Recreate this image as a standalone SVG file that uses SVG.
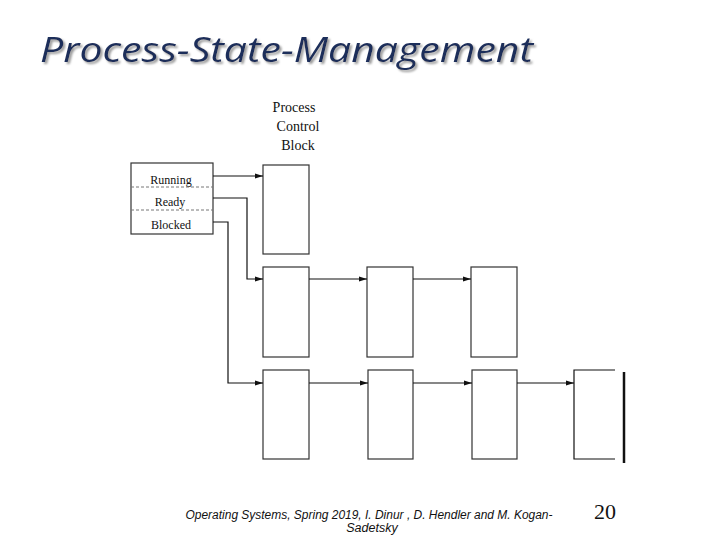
<svg xmlns="http://www.w3.org/2000/svg" width="720" height="540" viewBox="0 0 720 540">
<defs>
<marker id="ah" viewBox="0 0 8 6" refX="8" refY="3" markerWidth="8" markerHeight="6" markerUnits="userSpaceOnUse" orient="auto">
<path d="M0,0.5 L8,3 L0,5.5 z" fill="#111"/>
</marker>
<filter id="sh" x="-5%" y="-20%" width="110%" height="140%">
<feGaussianBlur in="SourceAlpha" stdDeviation="0.8"/>
<feOffset dx="1.5" dy="1.5" result="o"/>
<feFlood flood-color="#9a9a9a"/>
<feComposite in2="o" operator="in"/>
<feMerge><feMergeNode/><feMergeNode in="SourceGraphic"/></feMerge>
</filter>
</defs>
<style>
.box{fill:#fff;stroke:#333;stroke-width:1.2}
.ln{fill:none;stroke:#111;stroke-width:1.2}
.srf{font-family:"Liberation Serif","DejaVu Serif",serif;fill:#111}
.div{stroke:#777;stroke-width:1;stroke-dasharray:3 2}
</style>
<rect width="720" height="540" fill="#fff"/>
<text x="40" y="62" font-family="Open Sans, Lato, sans-serif" font-style="italic" font-size="34" fill="#1b2d5a" textLength="493" lengthAdjust="spacingAndGlyphs" filter="url(#sh)">Process-State-Management</text>

<g id="pcb-label" class="srf" font-size="14" text-anchor="middle">
<text x="294" y="112">Process</text>
<text x="298" y="131">Control</text>
<text x="298" y="150">Block</text>
</g>

<g id="state-table">
<rect class="box" x="131" y="163" width="82" height="71"/>
<line class="div" x1="131" y1="187" x2="213" y2="187"/>
<line class="div" x1="131" y1="210" x2="213" y2="210"/>
<text class="srf" x="171" y="184" font-size="12" text-anchor="middle">Running</text>
<text class="srf" x="170" y="206" font-size="12" text-anchor="middle">Ready</text>
<text class="srf" x="171" y="229" font-size="12" text-anchor="middle">Blocked</text>
</g>

<g id="running-pcb"><rect class="box" x="263" y="165" width="46" height="89"/></g>

<g id="ready-1"><rect class="box" x="263" y="267" width="46" height="90"/></g>
<g id="ready-2"><rect class="box" x="367" y="267" width="46" height="90"/></g>
<g id="ready-3"><rect class="box" x="471" y="267" width="46" height="90"/></g>

<g id="blocked-1"><rect class="box" x="263" y="370" width="46" height="89"/></g>
<g id="blocked-2"><rect class="box" x="368" y="370" width="45" height="89"/></g>
<g id="blocked-3"><rect class="box" x="472" y="370" width="45" height="89"/></g>
<g id="blocked-4">
<path class="ln" d="M615,370 H574 V459 H615" stroke="#333"/>
<line x1="624" y1="372" x2="624" y2="463" stroke="#111" stroke-width="2.5"/>
</g>

<g id="connectors">
<path class="ln" d="M213,176 H263" marker-end="url(#ah)"/>
<path class="ln" d="M213,198 H247 V279 H263" marker-end="url(#ah)"/>
<path class="ln" d="M213,222 H228 V383 H263" marker-end="url(#ah)"/>
<path class="ln" d="M309,279 H367" marker-end="url(#ah)"/>
<path class="ln" d="M413,279 H471" marker-end="url(#ah)"/>
<path class="ln" d="M309,383 H368" marker-end="url(#ah)"/>
<path class="ln" d="M413,383 H472" marker-end="url(#ah)"/>
<path class="ln" d="M517,383 H574" marker-end="url(#ah)"/>
</g>

<g id="footer">
<text x="369" y="519" font-family="Liberation Sans, sans-serif" font-style="italic" font-size="12.5" fill="#111" text-anchor="middle" textLength="367" lengthAdjust="spacingAndGlyphs">Operating Systems,  Spring 2019, I. Dinur , D. Hendler and M. Kogan-</text>
<text x="372" y="532" font-family="Liberation Sans, sans-serif" font-style="italic" font-size="12.5" fill="#111" text-anchor="middle">Sadetsky</text>
<text x="605" y="519" font-family="Liberation Serif, serif" font-size="22" fill="#111" text-anchor="middle">20</text>
</g>
</svg>
